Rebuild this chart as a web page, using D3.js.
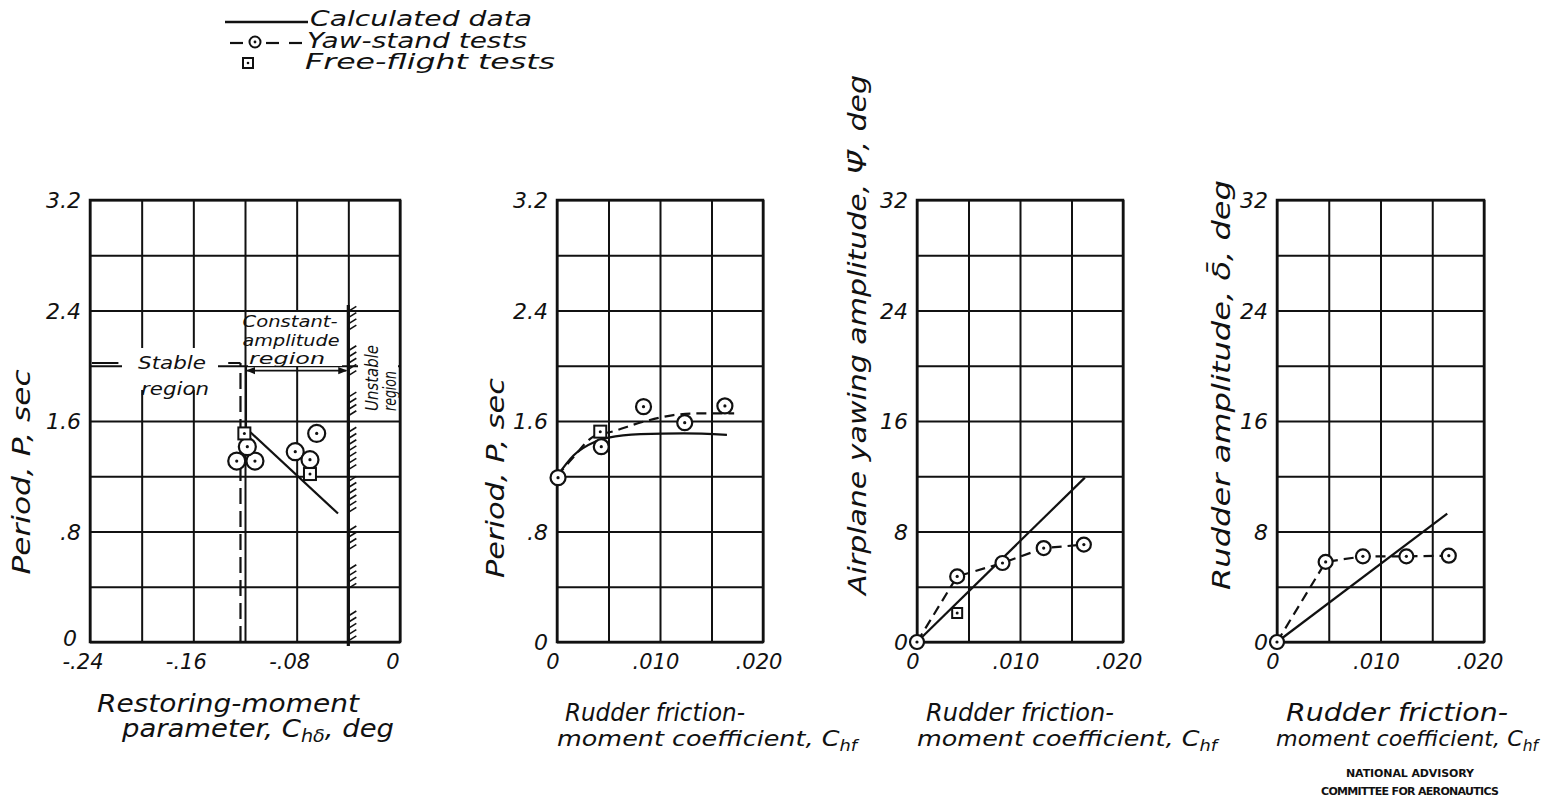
<!DOCTYPE html>
<html>
<head>
<meta charset="utf-8">
<script src="https://cdn.jsdelivr.net/npm/d3@7"></script>
<style>
body { margin: 0; background: #fff; }
svg text { font-family: "DejaVu Sans", sans-serif; font-style: italic; fill: #111; }
</style>
</head>
<body>
<script>
// shared axes
var periodGrid = [0, 0.4, 0.8, 1.2, 1.6, 2.0, 2.4, 2.8, 3.2];
var periodTicks = [0, 0.8, 1.6, 2.4, 3.2];
var periodText = ["0", ".8", "1.6", "2.4", "3.2"];
var ampGrid = [0, 4, 8, 12, 16, 20, 24, 28, 32];
var ampTicks = [0, 8, 16, 24, 32];
var ampText = ["0", "8", "16", "24", "32"];
var frictionGrid = [0, 0.005, 0.010, 0.015, 0.020];
var frictionTicks = [0, 0.010, 0.020];
var frictionText = ["0", ".010", ".020"];

// panel 1 - period vs restoring-moment parameter
var p1Grid = [-0.24, -0.20, -0.16, -0.12, -0.08, -0.04, 0];
var p1Ticks = [-0.24, -0.16, -0.08, 0];
var p1Text = ["-.24", "-.16", "-.08", "0"];
var p1CalcX = [-0.116, -0.048];
var p1CalcY = [1.52, 0.93];
var p1ZeroX = [-0.24, -0.12];
var p1ZeroY = [0, 0];
var p1YawX = [-0.1264, -0.1123, -0.1182, -0.0811, -0.0697, -0.0645];
var p1YawY = [1.31, 1.31, 1.414, 1.378, 1.32, 1.51];
var p1FreeX = [-0.1205, -0.0697];
var p1FreeY = [1.51, 1.216];
var p1StableX = -0.1235;
var p1StableTop = 2.02;
var p1ConstLeft = -0.1192;
var p1ConstY = 1.965;
var p1UnstableX = -0.04;
var p1UnstableTop = 2.44;
var p1Hatch = [[2.28, 2.42], [1.95, 2.13], [1.66, 1.80], [1.27, 1.55], [0.96, 1.19], [0.69, 0.86], [0.41, 0.56], [0.03, 0.25]];

// panel 2 - period vs rudder friction
var p2CalcX = [0, 0.0016, 0.0037, 0.005, 0.0081, 0.0123, 0.0165];
var p2CalcY = [1.20, 1.35, 1.45, 1.48, 1.505, 1.51, 1.50];
var p2DashX = [0, 0.0015, 0.0036, 0.0052, 0.0084, 0.0113, 0.0136, 0.0172];
var p2DashY = [1.20, 1.33, 1.49, 1.52, 1.595, 1.643, 1.655, 1.655];
var p2YawX = [0.0001, 0.0043, 0.0084, 0.0124, 0.0163];
var p2YawY = [1.19, 1.414, 1.704, 1.588, 1.709];
var p2FreeX = [0.0042];
var p2FreeY = [1.523];

// panel 3 - yawing amplitude
var p3CalcX = [0, 0.0163];
var p3CalcY = [0, 11.9];
var p3DashX = [0, 0.0039, 0.0083, 0.0123, 0.0162];
var p3DashY = [0, 4.75, 5.72, 6.8, 7.05];
var p3YawX = [0, 0.0039, 0.0083, 0.0123, 0.0162];
var p3YawY = [0, 4.75, 5.72, 6.8, 7.05];
var p3FreeX = [0.0039];
var p3FreeY = [2.1];

// panel 4 - rudder amplitude
var p4CalcX = [0, 0.01645];
var p4CalcY = [0, 9.3];
var p4DashX = [0, 0.0047, 0.0083, 0.0125, 0.0166];
var p4DashY = [0, 5.8, 6.2, 6.2, 6.25];
var p4YawX = [0, 0.0047, 0.0083, 0.0125, 0.0166];
var p4YawY = [0, 5.8, 6.2, 6.2, 6.25];

var W = 1542, H = 812;
var top0 = 200, ph = 442;
var ink = "#111";

var svg = d3.select("body").append("svg")
  .attr("width", W)
  .attr("height", H);

var defs = svg.append("defs");
defs.append("marker").attr("id", "arr")
  .attr("viewBox", "0 0 10 10").attr("refX", 9).attr("refY", 5)
  .attr("markerWidth", 9).attr("markerHeight", 9).attr("orient", "auto-start-reverse")
  .attr("markerUnits", "userSpaceOnUse")
  .append("path").attr("d", "M0,1 L10,5 L0,9 Z").attr("fill", ink);

function panel(left, w, xDomain, xGrid, yDomain, yGrid) {
  var g = svg.append("g").attr("transform", "translate(" + left + "," + top0 + ")");
  var x = d3.scaleLinear().domain(xDomain).range([0, w]);
  var y = d3.scaleLinear().domain(yDomain).range([ph, 0]);
  g.append("g").attr("transform", "translate(0," + ph + ")")
    .call(d3.axisBottom(x).tickValues(xGrid).tickSize(-ph).tickFormat(""));
  g.append("g")
    .call(d3.axisLeft(y).tickValues(yGrid).tickSize(-w).tickFormat(""));
  g.selectAll(".domain").remove();
  g.selectAll(".tick line").style("stroke", ink).style("stroke-width", 2);
  g.append("rect").attr("width", w).attr("height", ph)
    .attr("fill", "none").attr("stroke", ink).attr("stroke-width", 2.5);
  return { g: g, x: x, y: y, w: w };
}

function tickLabels(p, xt, xtxt, yt, ytxt, dx, zeroLift) {
  p.g.selectAll(".xl").data(xt).enter().append("text")
    .attr("x", function(d) { return p.x(d) + dx; })
    .attr("y", ph + 27)
    .attr("text-anchor", "middle")
    .style("font-size", "21px")
    .text(function(d, i) { return xtxt[i]; });
  p.g.selectAll(".yl").data(yt).enter().append("text")
    .attr("x", function(d, i) { return i === 0 ? -9 - zeroLift : -9; })
    .attr("y", function(d, i) { return p.y(d) + (i === 0 ? 8 - zeroLift : 8); })
    .attr("text-anchor", "end")
    .style("font-size", "22px")
    .text(function(d, i) { return ytxt[i]; });
}

function path(p, xs, ys, dash, curve) {
  var line = d3.line()
    .x(function(d) { return p.x(d[0]); })
    .y(function(d) { return p.y(d[1]); })
    .curve(curve || d3.curveLinear);
  p.g.append("path").datum(d3.zip(xs, ys))
    .attr("d", line)
    .attr("fill", "none")
    .attr("stroke", ink)
    .attr("stroke-width", 2.2)
    .attr("stroke-dasharray", dash ? "10,6" : null);
}

function circles(p, xs, ys, r) {
  var pts = d3.zip(xs, ys);
  p.g.selectAll(null).data(pts).enter().append("circle")
    .attr("cx", function(d) { return p.x(d[0]); })
    .attr("cy", function(d) { return p.y(d[1]); })
    .attr("r", r).attr("fill", "#fff").attr("stroke", ink).attr("stroke-width", 2.2);
  p.g.selectAll(null).data(pts).enter().append("circle")
    .attr("cx", function(d) { return p.x(d[0]); })
    .attr("cy", function(d) { return p.y(d[1]); })
    .attr("r", 1.6).attr("fill", ink);
}

function squares(p, xs, ys, s) {
  var pts = d3.zip(xs, ys);
  p.g.selectAll(null).data(pts).enter().append("rect")
    .attr("x", function(d) { return p.x(d[0]) - s / 2; })
    .attr("y", function(d) { return p.y(d[1]) - s / 2; })
    .attr("width", s).attr("height", s)
    .attr("fill", "#fff").attr("stroke", ink).attr("stroke-width", 2);
  p.g.selectAll(null).data(pts).enter().append("circle")
    .attr("cx", function(d) { return p.x(d[0]); })
    .attr("cy", function(d) { return p.y(d[1]); })
    .attr("r", 1.5).attr("fill", ink);
}

function label(x, y, txt, size, len, rot) {
  var t = svg.append("text")
    .attr("transform", "translate(" + x + "," + y + ")" + (rot ? " rotate(" + rot + ")" : ""))
    .attr("text-anchor", "middle")
    .style("font-size", size + "px");
  if (typeof txt === "string") t.text(txt);
  else txt.forEach(function(s) {
    t.append("tspan").text(s[0])
      .attr("baseline-shift", s[1] ? "-30%" : null)
      .style("font-size", s[1] ? (size * 0.7) + "px" : null);
  });
  if (len) t.attr("textLength", len).attr("lengthAdjust", "spacingAndGlyphs");
  return t;
}

function note(g, x, y, txt, size, len, rot) {
  return g.append("text")
    .attr("transform", "translate(" + x + "," + y + ")" + (rot ? " rotate(" + rot + ")" : ""))
    .attr("text-anchor", "middle")
    .style("font-size", size + "px")
    .attr("textLength", len).attr("lengthAdjust", "spacingAndGlyphs")
    .text(txt);
}

// ---------- panel 1
var p1 = panel(90, 310, [-0.24, 0], p1Grid, [0, 3.2], periodGrid);
tickLabels(p1, p1Ticks, p1Text, periodTicks, periodText, -7, 4);

// stable boundary (dashed) and stable-region leader
p1.g.append("line")
  .attr("x1", p1.x(p1StableX)).attr("x2", p1.x(p1StableX))
  .attr("y1", p1.y(0)).attr("y2", p1.y(p1StableTop))
  .attr("stroke", ink).attr("stroke-width", 2.2).attr("stroke-dasharray", "16,7");
p1.g.append("rect").attr("x", 32).attr("y", p1.y(p1StableTop) - 15).attr("width", 96).attr("height", 42).attr("fill", "#fff");
[[-0.2385, -0.218], [-0.133, p1StableX]].forEach(function(s) {
  p1.g.append("line")
    .attr("x1", p1.x(s[0])).attr("x2", p1.x(s[1]))
    .attr("y1", p1.y(p1StableTop)).attr("y2", p1.y(p1StableTop))
    .attr("stroke", ink).attr("stroke-width", 2);
});
note(p1.g, 82, p1.y(p1StableTop) + 6, "Stable", 18, 68);
note(p1.g, 85, p1.y(p1StableTop) + 32, "region", 18, 68);

// constant-amplitude region
p1.g.append("rect").attr("x", p1.x(p1ConstLeft) + 2).attr("y", 112).attr("width", 94).attr("height", 54).attr("fill", "#fff");
p1.g.append("line")
  .attr("x1", p1.x(p1ConstLeft)).attr("x2", p1.x(p1ConstLeft))
  .attr("y1", p1.y(p1ConstY) - 4).attr("y2", p1.y(1.52))
  .attr("stroke", ink).attr("stroke-width", 2);
p1.g.append("line")
  .attr("x1", p1.x(p1ConstLeft) + 1).attr("x2", p1.x(p1UnstableX) - 2)
  .attr("y1", p1.y(p1ConstY)).attr("y2", p1.y(p1ConstY))
  .attr("stroke", ink).attr("stroke-width", 1.8)
  .attr("marker-start", "url(#arr)").attr("marker-end", "url(#arr)");
note(p1.g, p1.x(p1ConstLeft) + 44, 127, "Constant-", 16, 95);
note(p1.g, p1.x(p1ConstLeft) + 45, 146, "amplitude", 16, 97);
note(p1.g, p1.x(p1ConstLeft) + 41, 164, "region", 16, 76);

// unstable boundary with hatching
p1.g.append("line")
  .attr("x1", p1.x(p1UnstableX)).attr("x2", p1.x(p1UnstableX))
  .attr("y1", p1.y(0) + 4).attr("y2", p1.y(p1UnstableTop))
  .attr("stroke", ink).attr("stroke-width", 3.2);
var hatchYs = [];
p1Hatch.forEach(function(h) { d3.range(h[0], h[1] + 0.001, 0.045).forEach(function(v) { hatchYs.push(v); }); });
p1.g.selectAll(".hatch").data(hatchYs).enter().append("line")
  .attr("x1", p1.x(p1UnstableX)).attr("x2", p1.x(p1UnstableX) + 8)
  .attr("y1", function(d) { return p1.y(d) + 3; }).attr("y2", function(d) { return p1.y(d) - 2; })
  .attr("stroke", ink).attr("stroke-width", 1.6);
p1.g.append("rect").attr("x", 268).attr("y", 140).attr("width", 40).attr("height", 76).attr("fill", "#fff");
note(p1.g, 288, 178, "Unstable", 18, 66, -90);
note(p1.g, 306, 191, "region", 18, 40, -90);

path(p1, p1ZeroX, p1ZeroY, false);
path(p1, p1CalcX, p1CalcY, false);
circles(p1, p1YawX, p1YawY, 8.5);
squares(p1, p1FreeX, p1FreeY, 12);

// ---------- panel 2
var p2 = panel(557, 206, [0, 0.020], frictionGrid, [0, 3.2], periodGrid);
tickLabels(p2, frictionTicks, frictionText, periodTicks, periodText, -4, 0);
path(p2, p2CalcX, p2CalcY, false, d3.curveMonotoneX);
path(p2, p2DashX, p2DashY, true, d3.curveMonotoneX);
circles(p2, p2YawX, p2YawY, 7.5);
squares(p2, p2FreeX, p2FreeY, 12);

// ---------- panel 3
var p3 = panel(917, 206, [0, 0.020], frictionGrid, [0, 32], ampGrid);
tickLabels(p3, frictionTicks, frictionText, ampTicks, ampText, -4, 0);
path(p3, p3CalcX, p3CalcY, false);
path(p3, p3DashX, p3DashY, true);
circles(p3, p3YawX, p3YawY, 7);
squares(p3, p3FreeX, p3FreeY, 10);

// ---------- panel 4
var p4 = panel(1277, 207, [0, 0.020], frictionGrid, [0, 32], ampGrid);
tickLabels(p4, frictionTicks, frictionText, ampTicks, ampText, -4, 0);
path(p4, p4CalcX, p4CalcY, false);
path(p4, p4DashX, p4DashY, true);
circles(p4, p4YawX, p4YawY, 7);

// ---------- axis titles
label(30, 472, "Period, P, sec", 24, 205, -90);
label(504, 478, "Period, P, sec", 24, 200, -90);
label(866, 335, "Airplane yawing amplitude, \u03A8\u0304, deg", 24, 520, -90);
label(1230, 385, "Rudder amplitude, \u03B4\u0304, deg", 25, 410, -90);

label(228, 712, "Restoring-moment", 24, 262);
label(258, 737, [["parameter, C", 0], ["h\u03B4", 1], [", deg", 0]], 24, 272);
[p2, p3, p4].forEach(function(p, i) {
  var cx = [655, 1020, 1397][i];
  label(cx, 721, "Rudder friction-", 24, [180, 188, 222][i]);
  label(cx + [52, 47, 10][i], 746, [["moment coefficient, C", 0], ["hf", 1]], 22, [300, 300, 262][i]);
});

svg.append("text").attr("x", 1410).attr("y", 777).attr("text-anchor", "middle")
  .style("font-size", "11px").style("font-style", "normal").style("font-weight", "bold")
  .attr("textLength", 128).text("NATIONAL ADVISORY");
svg.append("text").attr("x", 1410).attr("y", 795).attr("text-anchor", "middle")
  .style("font-size", "11px").style("font-style", "normal").style("font-weight", "bold")
  .attr("textLength", 178).text("COMMITTEE FOR AERONAUTICS");

// ---------- legend
var lg = svg.append("g");
lg.append("line").attr("x1", 225).attr("x2", 308).attr("y1", 22).attr("y2", 22)
  .attr("stroke", ink).attr("stroke-width", 2.5);
[[230, 243], [266, 279], [289, 302]].forEach(function(s) {
  lg.append("line").attr("x1", s[0]).attr("x2", s[1]).attr("y1", 43).attr("y2", 43)
    .attr("stroke", ink).attr("stroke-width", 2.2);
});
lg.append("circle").attr("cx", 255).attr("cy", 42).attr("r", 5.5).attr("fill", "#fff").attr("stroke", ink).attr("stroke-width", 2);
lg.append("circle").attr("cx", 255).attr("cy", 42).attr("r", 1.4).attr("fill", ink);
lg.append("rect").attr("x", 243).attr("y", 58).attr("width", 10).attr("height", 10).attr("fill", "#fff").attr("stroke", ink).attr("stroke-width", 2);
lg.append("circle").attr("cx", 248).attr("cy", 63).attr("r", 1.3).attr("fill", ink);
lg.append("text").attr("x", 310).attr("y", 26).style("font-size", "21px")
  .attr("textLength", 222).attr("lengthAdjust", "spacingAndGlyphs").text("Calculated data");
lg.append("text").attr("x", 307).attr("y", 48).style("font-size", "21px")
  .attr("textLength", 220).attr("lengthAdjust", "spacingAndGlyphs").text("Yaw-stand tests");
lg.append("text").attr("x", 305).attr("y", 69).style("font-size", "21px")
  .attr("textLength", 250).attr("lengthAdjust", "spacingAndGlyphs").text("Free-flight tests");
</script>
</body>
</html>
